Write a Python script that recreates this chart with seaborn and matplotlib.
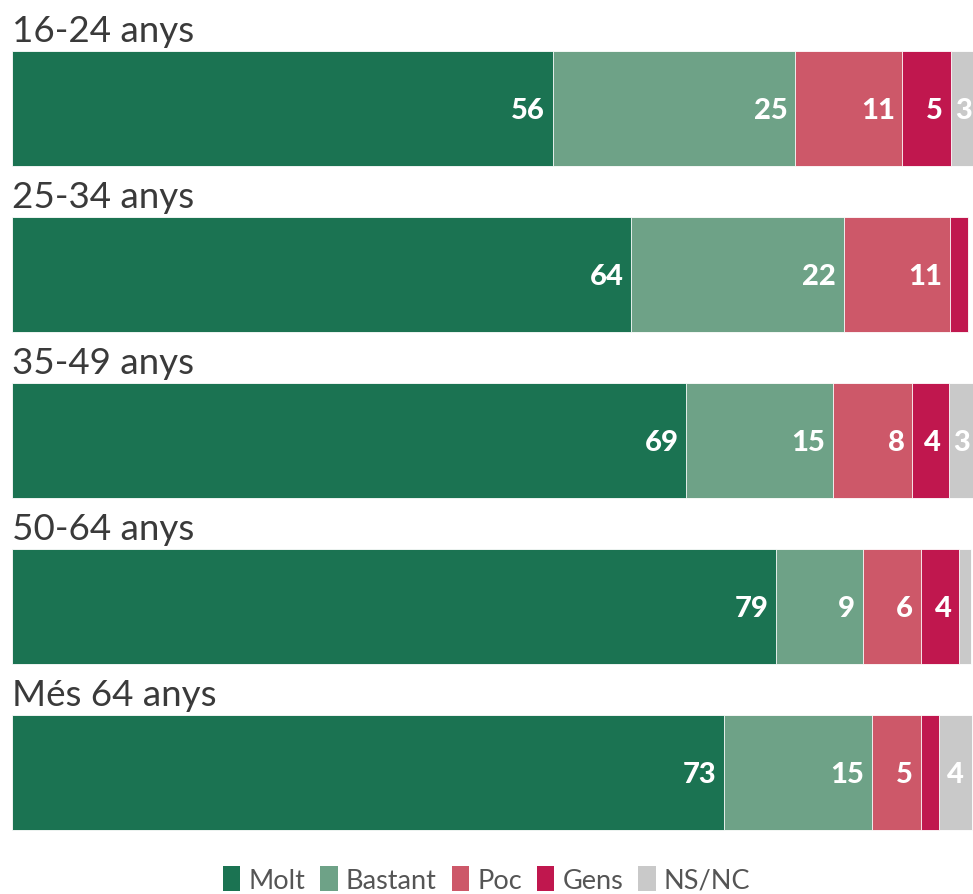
import numpy as np
import pandas as pd
import matplotlib.pyplot as plt
from matplotlib.patches import Patch
import seaborn as sns

# Data (segment widths as drawn, labels as printed)
groups = ['16-24 anys', '25-34 anys', '35-49 anys', '50-64 anys', 'Més 64 anys']
categories = ['Molt', 'Bastant', 'Poc', 'Gens', 'NS/NC']
molt = [56.0, 64.1, 69.8, 79.1, 73.7]
bastant = [25.1, 22.0, 15.2, 9.0, 15.3]
poc = [11.1, 11.0, 8.2, 6.0, 5.1]
gens = [5.0, 1.9, 3.8, 4.0, 1.9]
nsnc = [3.0, 0.0, 3.0, 1.2, 3.4]
labels_molt = [56, 64, 69, 79, 73]
labels_bastant = [25, 22, 15, 9, 15]
labels_poc = [11, 11, 8, 6, 5]
labels_gens = [5, None, 4, 4, None]
labels_nsnc = [3, None, 3, None, 4]
colors = ['#1b7352', '#6ea287', '#cd5869', '#c0174e', '#c9c9c9']

sns.set_theme(style='white')
plt.rcParams['font.family'] = ['Lato', 'DejaVu Sans']

values = np.array([molt, bastant, poc, gens, nsnc], dtype=float)
labels = [labels_molt, labels_bastant, labels_poc, labels_gens, labels_nsnc]
cum = values.cumsum(axis=0)

fig = plt.figure(figsize=(9.73, 8.95), dpi=100)
ax = fig.add_axes([12 / 973, 55 / 895, 961 / 973, 840 / 895])

bar_w = 0.69
# draw from the full stack down to the first segment so each one shows
for k in range(len(categories) - 1, -1, -1):
    df = pd.DataFrame({'group': groups, 'value': cum[k]})
    sns.barplot(data=df, x='value', y='group', order=groups, orient='h',
                color=colors[k], saturation=1, width=bar_w,
                edgecolor='white', linewidth=0.6, ax=ax)

# value labels inside the segments
for i in range(len(groups)):
    for k in range(len(categories)):
        lab = labels[k][i]
        if lab is not None:
            ax.text(cum[k, i] - 0.8, i + 0.01, f'{lab}', ha='right', va='center',
                    color='white', fontsize=21, fontweight='black')

# group titles above each bar
for i, g in enumerate(groups):
    ax.text(0, i - bar_w / 2 - 0.025, g, ha='left', va='bottom',
            fontsize=26.5, color='#3a3a3a')

ax.set_xlim(0, 99.5)
ax.set_ylim(4.40, -0.66)
ax.set_xlabel('')
ax.set_ylabel('')
ax.set_xticks([])
ax.set_yticks([])
sns.despine(ax=ax, left=True, bottom=True)

handles = [Patch(facecolor=c, edgecolor='none') for c in colors]
fig.legend(handles, categories, loc='lower center', bbox_to_anchor=(0.5, -0.026),
           ncol=5, frameon=False, fontsize=19.5, handlelength=0.65, handleheight=1.0,
           handletextpad=0.3, columnspacing=0.55, labelcolor='#555555')

fig.savefig('out.png', dpi=100)
